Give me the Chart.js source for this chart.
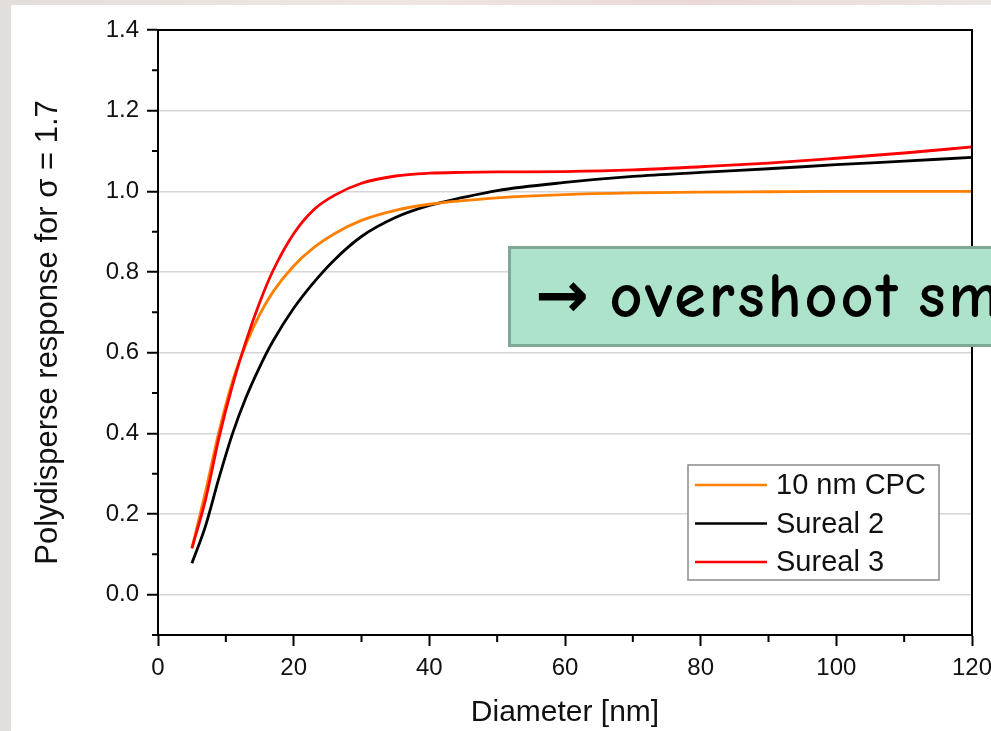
<!DOCTYPE html>
<html>
<head>
<meta charset="utf-8">
<title>Polydisperse response</title>
<script src="https://cdn.jsdelivr.net/npm/chart.js@4.4.1/dist/chart.umd.min.js"></script>
<style>
  html, body { margin: 0; padding: 0; overflow: hidden; }
  body {
    width: 991px; height: 731px; position: relative;
    background: linear-gradient(90deg, #e2dedc 0%, #efe6e3 40%, #ead9d6 70%, #ece6e4 100%);
  }
  #sheet { position: absolute; left: 11px; top: 5px; right: 0; bottom: 0; background: #fff; }
  #chart { position: absolute; left: 0; top: 0; }
  #note {
    position: absolute; left: 508px; top: 246px; width: 520px; height: 95px;
    background: #ade3cb; border: 3px solid #80a897; overflow: hidden;
    font-family: 'Comic Sans MS', 'Comic Neue', 'DejaVu Sans', sans-serif;
    font-size: 64px; font-weight: bold; line-height: 95px; padding-left: 24px;
    letter-spacing: 3px; word-spacing: -8px; white-space: nowrap; color: #000;
  }
</style>
</head>
<body>
<div id="sheet"></div>
<canvas id="chart" width="991" height="731"></canvas>
<div id="note">→ overshoot sm</div>
<script>
// diametre (nm) et réponses
const diameters = [5, 7, 9, 11, 13, 15, 17, 20, 23, 26, 30, 35, 40, 45, 50, 60, 70, 80, 90, 100, 110, 120];
const cpc10   = [0.115, 0.255, 0.405, 0.53, 0.622, 0.695, 0.752, 0.815, 0.861, 0.895, 0.928, 0.953, 0.968, 0.977, 0.984, 0.992, 0.996, 0.998, 0.999, 1.0, 1.0, 1.0];
const sureal2 = [0.078, 0.17, 0.29, 0.40, 0.49, 0.565, 0.63, 0.71, 0.775, 0.83, 0.888, 0.935, 0.965, 0.985, 1.002, 1.022, 1.037, 1.047, 1.056, 1.066, 1.075, 1.084];
const sureal3 = [0.115, 0.235, 0.39, 0.52, 0.63, 0.725, 0.805, 0.895, 0.955, 0.99, 1.02, 1.038, 1.045, 1.047, 1.048, 1.049, 1.053, 1.061, 1.07, 1.082, 1.095, 1.11];

const seriesNames  = ['10 nm CPC', 'Sureal 2', 'Sureal 3'];
const seriesColors = ['#ff8000', '#000000', '#ff0000'];

// graduations avec étiquette
const xLabelled = [0, 20, 40, 60, 80, 100, 120];
const yLabelled = [0, 0.2, 0.4, 0.6, 0.8, 1.0, 1.2, 1.4];

const isXMajor = (v) => xLabelled.some(t => Math.abs(t - v) < 1e-6);
const isYMajor = (v) => yLabelled.some(t => Math.abs(t - v) < 1e-6);

const toPoints = (ys) => diameters.map((d, i) => ({ x: d, y: ys[i] }));

Chart.defaults.font.family = "'Liberation Sans', Arial, sans-serif";
Chart.defaults.color = '#111';

// petites graduations + cadre haut/droite
const frame = {
  id: 'frame',
  afterDatasetsDraw(chart) {
    const { ctx, chartArea: a, scales: { x, y } } = chart;
    ctx.save();
    ctx.strokeStyle = '#000';
    ctx.lineWidth = 2;
    ctx.beginPath();
    x.ticks.forEach(t => {
      if (isXMajor(t.value)) return;
      const px = x.getPixelForValue(t.value);
      ctx.moveTo(px, a.bottom);
      ctx.lineTo(px, a.bottom + 7);
    });
    y.ticks.forEach(t => {
      if (isYMajor(t.value)) return;
      const py = y.getPixelForValue(t.value);
      ctx.moveTo(a.left, py);
      ctx.lineTo(a.left - 6, py);
    });
    ctx.stroke();
    ctx.beginPath();
    ctx.moveTo(a.left, a.top);
    ctx.lineTo(a.right, a.top);
    ctx.lineTo(a.right, a.bottom);
    ctx.stroke();
    ctx.restore();
  }
};

// légende encadrée en bas à droite
const boxLegend = {
  id: 'boxLegend',
  afterDraw(chart) {
    const { ctx, chartArea: a } = chart;
    const left = a.right - 284, top = a.bottom - 170, w = 251, h = 115;
    ctx.save();
    ctx.fillStyle = '#fff';
    ctx.fillRect(left, top, w, h);
    ctx.strokeStyle = '#8a8a8a';
    ctx.lineWidth = 1.5;
    ctx.strokeRect(left, top, w, h);
    ctx.font = "29px 'Liberation Sans', Arial, sans-serif";
    ctx.textBaseline = 'middle';
    chart.data.datasets.forEach((ds, i) => {
      const yy = top + 20 + i * 38.5;
      ctx.strokeStyle = ds.borderColor;
      ctx.lineWidth = 2.5;
      ctx.beginPath();
      ctx.moveTo(left + 7, yy);
      ctx.lineTo(left + 79, yy);
      ctx.stroke();
      ctx.fillStyle = '#111';
      ctx.fillText(ds.label, left + 88, yy + 1);
    });
    ctx.restore();
  }
};

new Chart(document.getElementById('chart'), {
  type: 'line',
  data: {
    datasets: [
      { label: seriesNames[0], data: toPoints(cpc10),   borderColor: seriesColors[0], order: 1 },
      { label: seriesNames[1], data: toPoints(sureal2), borderColor: seriesColors[1], order: 2 },
      { label: seriesNames[2], data: toPoints(sureal3), borderColor: seriesColors[2], order: 0 },
    ]
  },
  options: {
    responsive: false,
    devicePixelRatio: 1,
    animation: false,
    layout: { padding: { left: 30, right: 19, top: 30, bottom: 0 } },
    elements: {
      line: { borderWidth: 2.8, cubicInterpolationMode: 'monotone', fill: false },
      point: { radius: 0 }
    },
    plugins: {
      legend: { display: false },
      tooltip: { enabled: false }
    },
    scales: {
      x: {
        type: 'linear',
        min: 0, max: 120,
        afterFit: (s) => { s.height = 96; s.paddingLeft = 0; s.paddingRight = 0; },
        border: { color: '#000', width: 2 },
        grid: {
          drawOnChartArea: false,
          tickLength: 11,
          tickWidth: 2,
          tickColor: (c) => (c.tick && isXMajor(c.tick.value)) ? '#000' : 'rgba(0,0,0,0)'
        },
        ticks: {
          stepSize: 10,
          autoSkip: false,
          maxRotation: 0,
          padding: 8,
          font: { size: 24 },
          callback: (v) => isXMajor(v) ? String(Math.round(v)) : ''
        },
        title: {
          display: true,
          text: 'Diameter [nm]',
          font: { size: 30 },
          padding: { top: 0, bottom: 0 }
        }
      },
      y: {
        min: -0.1, max: 1.4,
        afterFit: (s) => { s.width = 128; },
        border: { color: '#000', width: 2 },
        grid: {
          color: (c) => (c.tick && isYMajor(c.tick.value) && c.tick.value < 1.39) ? '#d6d6d6' : 'rgba(0,0,0,0)',
          lineWidth: 1.5,
          tickLength: 11,
          tickWidth: 2,
          tickColor: (c) => (c.tick && isYMajor(c.tick.value)) ? '#000' : 'rgba(0,0,0,0)'
        },
        ticks: {
          stepSize: 0.1,
          maxTicksLimit: 30,
          autoSkip: false,
          padding: 8,
          font: { size: 24 },
          callback: (v) => isYMajor(v) ? v.toFixed(1) : ''
        },
        title: {
          display: true,
          text: 'Polydisperse response for σ = 1.7',
          font: { size: 31 },
          padding: { top: 0, bottom: 0 }
        }
      }
    }
  },
  plugins: [frame, boxLegend]
});
</script>
</body>
</html>
